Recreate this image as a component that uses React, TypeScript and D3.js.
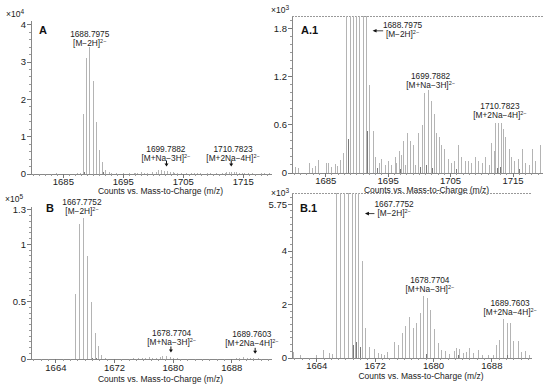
import React from "react";
import * as d3 from "d3";

const specA: [number, number][] = [
  [1680.1, 80], [1680.7, 60], [1682.4, 130], [1682.9, 60], [1683.4, 90], [1683.8, 160],
  [1685.2, 120], [1685.5, 130], [1686.0, 70], [1686.5, 110], [1686.9, 90], [1687.3, 160],
  [1687.8, 250],
  [1688.39, 16000], [1688.91, 31000], [1689.43, 34000], [1689.95, 25000], [1690.47, 14000],
  [1690.99, 6500], [1691.51, 3200], [1692.03, 1100],
  [1692.7, 520], [1693.0, 200], [1693.6, 120], [1693.9, 180], [1694.6, 100], [1695.1, 150],
  [1695.5, 100], [1696.1, 200], [1696.4, 120], [1696.8, 280], [1697.1, 220], [1697.4, 400],
  [1697.8, 100], [1698.1, 500], [1698.6, 400], [1699.0, 350], [1699.4, 100], [1699.9, 500],
  [1700.5, 600], [1700.9, 1000], [1701.4, 1030], [1701.9, 900], [1702.4, 740], [1702.8, 500],
  [1703.3, 450], [1703.6, 350], [1704.1, 300], [1704.7, 180], [1705.1, 120], [1705.6, 150],
  [1706.3, 350], [1706.8, 200], [1707.4, 150], [1707.9, 150], [1708.4, 120], [1709.0, 200],
  [1709.5, 150], [1710.1, 120], [1710.6, 200], [1711.2, 100], [1711.6, 380], [1712.0, 280],
  [1712.2, 620], [1712.7, 630], [1713.1, 620], [1713.5, 550], [1713.8, 450], [1714.4, 300],
  [1714.8, 200], [1715.2, 150], [1715.8, 180], [1716.5, 300], [1717.0, 120], [1717.6, 100],
  [1718.1, 300], [1718.6, 150], [1719.4, 350],
];
const specADark: [number, number][] = [
  [1688.6, 420], [1691.7, 520], [1693.3, 60], [1697.0, 50], [1700.2, 70], [1701.2, 100],
  [1702.1, 60], [1706.0, 50], [1712.5, 60], [1713.0, 80], [1716.0, 50],
];

const specB: [number, number][] = [
  [1660.8, 220], [1661.7, 100], [1664.0, 100], [1664.9, 300], [1665.7, 190], [1666.1, 150],
  [1666.72, 57000], [1667.27, 118000], [1667.77, 123000], [1668.32, 90000], [1668.86, 50000],
  [1669.37, 23000], [1669.78, 11000], [1670.23, 3630],
  [1670.74, 1120], [1671.28, 430], [1671.9, 340], [1672.43, 190], [1672.88, 150], [1673.25, 100],
  [1673.7, 210], [1674.62, 600], [1675.26, 500], [1675.76, 930], [1676.22, 1200], [1676.76, 1520],
  [1677.22, 1120], [1677.68, 1300], [1678.23, 1680], [1678.59, 2300], [1679.14, 2260],
  [1679.64, 1800], [1680.1, 1080], [1680.65, 560], [1681.1, 310], [1681.65, 250], [1682.15, 160],
  [1682.83, 250], [1683.16, 370], [1683.61, 340], [1684.07, 190], [1684.53, 210], [1684.98, 370],
  [1685.53, 190], [1686.12, 310], [1686.67, 100], [1687.5, 100], [1688.18, 120], [1688.64, 500],
  [1689.09, 680], [1689.6, 1450], [1690.09, 1300], [1690.56, 1300], [1691.01, 620], [1691.6, 620],
  [1692.07, 220], [1692.61, 270], [1693.1, 100],
];
const specBDark: [number, number][] = [
  [1669.0, 500], [1669.5, 580], [1670.0, 420], [1679.0, 150], [1690.2, 120], [1683.4, 100],
];

const xTicksA = [1685, 1695, 1705, 1715];
const xTicksB = [1664, 1672, 1680, 1688];
const yTicksA = [0, 1, 2, 3, 4];
const yTicksA1 = [0, 0.6, 1.2, 1.8];
const yTicksB = [0, 0.5, 1, 1.3];
const yTicksB1 = [0, 2, 4, 5.75];

type Ann = {
  mz: number; level: number; mass: string; ion: string; sup: string;
  arrow?: "down" | "left"; amz?: number; amz2?: number; alevel?: number;
};

const annA: Ann[] = [
  { mz: 1689.4, level: 36800, mass: "1688.7975", ion: "[M\u22122H]", sup: "2\u2212" },
  { mz: 1702.1, level: 5900, mass: "1699.7882", ion: "[M+Na\u22123H]", sup: "2\u2212", arrow: "down", amz: 1702.2, alevel: 2000 },
  { mz: 1713.3, level: 5900, mass: "1710.7823", ion: "[M+2Na\u22124H]", sup: "2\u2212", arrow: "down", amz: 1713.0, alevel: 2000 },
];
const annA1: Ann[] = [
  { mz: 1697.3, level: 1810, mass: "1688.7975", ion: "[M\u22122H]", sup: "2\u2212", arrow: "left", amz: 1692.5, amz2: 1694.2, alevel: 1775 },
  { mz: 1701.8, level: 1175, mass: "1699.7882", ion: "[M+Na\u22123H]", sup: "2\u2212" },
  { mz: 1712.9, level: 800, mass: "1710.7823", ion: "[M+2Na\u22124H]", sup: "2\u2212" },
];
const annB: Ann[] = [
  { mz: 1667.56, level: 134000, mass: "1667.7752", ion: "[M\u22122H]", sup: "2\u2212" },
  { mz: 1679.8, level: 19700, mass: "1678.7704", ion: "[M+Na\u22123H]", sup: "2\u2212", arrow: "down", amz: 1679.7, alevel: 5700 },
  { mz: 1690.75, level: 19000, mass: "1689.7603", ion: "[M+2Na\u22124H]", sup: "2\u2212", arrow: "down", amz: 1691.2, alevel: 4500 },
];
const annB1: Ann[] = [
  { mz: 1674.6, level: 5630, mass: "1667.7752", ion: "[M\u22122H]", sup: "2\u2212", arrow: "left", amz: 1670.6, amz2: 1671.9, alevel: 5400 },
  { mz: 1679.5, level: 2790, mass: "1678.7704", ion: "[M+Na\u22123H]", sup: "2\u2212" },
  { mz: 1690.5, level: 1930, mass: "1689.7603", ion: "[M+2Na\u22124H]", sup: "2\u2212" },
];

const FONT = "'Liberation Sans', Arial, Helvetica, sans-serif";
const TITLE = "Counts vs. Mass-to-Charge (m/z)";

type PanelProps = {
  left: number; right: number; base: number; top: number;
  xDomain: [number, number]; yMax: number; unit: number; exp: string;
  expX: number; expY: number;
  spec: [number, number][]; dark: [number, number][];
  xTicks: number[]; yTicks: number[]; yMinor: number;
  label: string; labelX: number; labelY: number;
  tickY: number; titleY: number; clipped: boolean; ann: Ann[];
};

function Panel(p: PanelProps) {
  const x = d3.scaleLinear().domain(p.xDomain).range([p.left, p.right]);
  const y = d3.scaleLinear().domain([0, p.yMax]).range([p.base, p.top]);
  const xMinor = d3.range(Math.ceil(p.xDomain[0]), p.xDomain[1], 1);
  const yMinor = d3.range(0, p.yMax / p.unit + 1e-9, p.yMinor);
  const bar = (d: [number, number], i: number, col: string) => (
    <line key={i} x1={x(d[0])} x2={x(d[0])} y1={p.base} y2={y(Math.min(d[1], p.yMax))}
      stroke={col} strokeWidth={1} shapeRendering="crispEdges" />
  );
  return (
    <g fontFamily={FONT}>
      {/* axes */}
      <line x1={p.left} x2={p.right} y1={p.base} y2={p.base} stroke="#888" shapeRendering="crispEdges" />
      <line x1={p.left} x2={p.left} y1={p.base} y2={p.top} stroke="#888" shapeRendering="crispEdges" />
      {p.clipped && (
        <line x1={p.left} x2={p.right} y1={p.top} y2={p.top} stroke="#999" strokeDasharray="2,1" shapeRendering="crispEdges" />
      )}
      {xMinor.map((v) => (
        <line key={"xm" + v} x1={x(v)} x2={x(v)} y1={p.base} y2={p.base + 2} stroke="#999" shapeRendering="crispEdges" />
      ))}
      {p.xTicks.map((v) => (
        <g key={"xt" + v}>
          <line x1={x(v)} x2={x(v)} y1={p.base} y2={p.base + 4} stroke="#777" shapeRendering="crispEdges" />
          <text x={x(v)} y={p.tickY} fontSize={9.5} textAnchor="middle" fill="#222">{v}</text>
        </g>
      ))}
      {yMinor.map((v, i) => (
        <line key={"ym" + i} x1={p.left - 2} x2={p.left} y1={y(v * p.unit)} y2={y(v * p.unit)} stroke="#999" shapeRendering="crispEdges" />
      ))}
      {p.yTicks.map((v) => (
        <g key={"yt" + v}>
          <line x1={p.left - 4} x2={p.left} y1={y(v * p.unit)} y2={y(v * p.unit)} stroke="#777" shapeRendering="crispEdges" />
          <text x={p.left - 5} y={y(v * p.unit)} dy="0.35em" fontSize={9.5} textAnchor="end" fill="#222">{v}</text>
        </g>
      ))}
      <text x={p.expX} y={p.expY} fontSize={8.5} fill="#222">
        {"\u00d710"}<tspan dy={-3} fontSize={6.5}>{p.exp}</tspan>
      </text>
      <text x={(p.left + p.right) / 2 + 9} y={p.titleY} fontSize={8.5} textAnchor="middle" fill="#222">{TITLE}</text>
      {/* sticks */}
      {p.spec.map((d, i) => bar(d, i, "#b4b4b4"))}
      {p.dark.map((d, i) => bar(d, i + 1000, "#7a7a7a"))}
      <text x={p.labelX} y={p.labelY} fontSize={11} fontWeight="bold" fill="#111">{p.label}</text>
      {/* annotations */}
      {p.ann.map((a, i) => {
        const ax = x(a.mz);
        const ay = y(a.level);
        let arrow = null;
        if (a.arrow === "down") {
          const tx = x(a.amz!);
          const ty = y(a.alevel!);
          arrow = (
            <g>
              <line x1={tx} x2={tx} y1={ty - 6} y2={ty - 2} stroke="#111" strokeWidth={1} />
              <path d={`M${tx - 2},${ty - 3}L${tx + 2},${ty - 3}L${tx},${ty}Z`} fill="#111" />
            </g>
          );
        } else if (a.arrow === "left") {
          const x1 = x(a.amz!);
          const x2 = x(a.amz2!);
          const ty = y(a.alevel!);
          arrow = (
            <g>
              <line x1={x1 + 2} x2={x2} y1={ty} y2={ty} stroke="#111" strokeWidth={0.8} />
              <path d={`M${x1},${ty}L${x1 + 4},${ty - 1.8}L${x1 + 4},${ty + 1.8}Z`} fill="#111" />
            </g>
          );
        }
        return (
          <g key={"a" + i}>
            <text x={ax} y={ay} fontSize={8.3} textAnchor="middle" fill="#222">{a.mass}</text>
            <text x={ax} y={ay + 9} fontSize={8.3} textAnchor="middle" fill="#222">
              {a.ion}<tspan dy={-3} fontSize={5.5}>{a.sup}</tspan>
            </text>
            {arrow}
          </g>
        );
      })}
    </g>
  );
}

export default function App() {
  return (
    <svg width={550} height={385} style={{ position: "absolute", left: 0, top: 0, background: "#fff" }}>
      <rect width={550} height={385} fill="#fff" />
      <Panel left={31} right={272} base={174} top={21} xDomain={[1679.6, 1719.8]} yMax={41000} unit={10000}
        exp="4" expX={6} expY={17} spec={specA} dark={specADark} xTicks={xTicksA} yTicks={yTicksA} yMinor={0.2}
        label="A" labelX={39} labelY={34} tickY={184.5} titleY={194} clipped={false} ann={annA} />
      <Panel left={292} right={543} base={173} top={16} xDomain={[1679.6, 1719.8]} yMax={1960} unit={1000}
        exp="3" expX={271} expY={13} spec={specA} dark={specADark} xTicks={xTicksA} yTicks={yTicksA1} yMinor={0.1}
        label="A.1" labelX={301} labelY={34} tickY={183.5} titleY={192.5} clipped={true} ann={annA1} />
      <Panel left={31} right={272} base={359} top={207} xDomain={[1660.6, 1693.5]} yMax={132500} unit={100000}
        exp="5" expX={5} expY={202} spec={specB} dark={specBDark} xTicks={xTicksB} yTicks={yTicksB} yMinor={0.05}
        label="B" labelX={46} labelY={212} tickY={371} titleY={381.5} clipped={false} ann={annB} />
      <Panel left={292} right={532} base={358} top={193} xDomain={[1660.6, 1693.5]} yMax={6170} unit={1000}
        exp="3" expX={271} expY={196} spec={specB} dark={specBDark} xTicks={xTicksB} yTicks={yTicksB1} yMinor={0.25}
        label="B.1" labelX={300} labelY={212} tickY={368.5} titleY={378.5} clipped={true} ann={annB1} />
    </svg>
  );
}
